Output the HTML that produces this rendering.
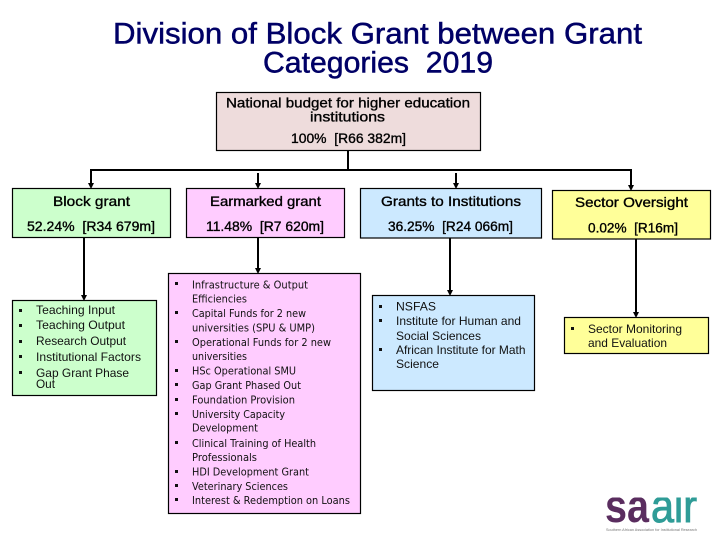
<!DOCTYPE html>
<html lang="en">
<head>
<meta charset="utf-8">
<title>Division of Block Grant between Grant Categories 2019</title>
<style>
html,body{margin:0;padding:0;background:#fff;width:720px;height:540px;overflow:hidden}
svg{display:block}
text{font-family:"Liberation Sans",Arial,sans-serif}
.t{font-size:30px;fill:#000066;stroke:#000066;stroke-width:.5px}
.h{font-size:14px;fill:#000;stroke:#000;stroke-width:.35px}
.l{font-size:12px;fill:#111}
.p{font-family:"DejaVu Sans",sans-serif;font-size:10.5px;fill:#111}
.b{stroke:#000;stroke-width:1.2}
.c{stroke:#000;stroke-width:2;fill:none}
</style>
</head>
<body>
<svg width="720" height="540" viewBox="0 0 720 540" xmlns="http://www.w3.org/2000/svg">
<defs><clipPath id="lg"><rect x="600" y="497.5" width="100" height="26"/></clipPath></defs>
<rect width="720" height="540" fill="#fff"/>

<text class="t" x="113" y="43.5" textLength="529" lengthAdjust="spacingAndGlyphs">Division of Block Grant between Grant</text>
<text class="t" x="263" y="72.5" textLength="230" lengthAdjust="spacingAndGlyphs">Categories&#160;&#160;2019</text>

<!-- connectors -->
<path class="c" d="M348 150V170M91 184V170H631V186M258 173V184M456 173V184M84 238V296M258 238V269M450 238V291M636 239V313"/>
<g fill="#000">
<polygon points="88,183 94,183 91,189"/>
<polygon points="255,183 261,183 258,189"/>
<polygon points="453,183 459,183 456,189"/>
<polygon points="628,185 634,185 631,191"/>
<polygon points="81,295 87,295 84,301"/>
<polygon points="255,268 261,268 258,274"/>
<polygon points="447,290 453,290 450,296"/>
<polygon points="633,312 639,312 636,318"/>
</g>

<!-- boxes -->
<rect class="b" x="216.5" y="92.5" width="264" height="58" fill="#eedcdc"/>
<rect class="b" x="12.5" y="188.5" width="158" height="49" fill="#ccffcc"/>
<rect class="b" x="186.5" y="188.5" width="158" height="49" fill="#ffccff"/>
<rect class="b" x="360.5" y="188.5" width="181" height="49.5" fill="#cce9ff"/>
<rect class="b" x="552.5" y="190.5" width="158" height="48.5" fill="#ffff99"/>
<rect class="b" x="12.5" y="300.5" width="144" height="95" fill="#ccffcc"/>
<rect class="b" x="168.5" y="273.5" width="192" height="240" fill="#ffccff"/>
<rect class="b" x="372.5" y="295.5" width="162" height="95" fill="#cce9ff"/>
<rect class="b" x="564.5" y="317.5" width="144" height="36" fill="#ffff99"/>

<!-- headers -->
<text class="h" x="226" y="107.5" textLength="244" lengthAdjust="spacingAndGlyphs">National budget for higher education</text>
<text class="h" x="310" y="121.5" textLength="75" lengthAdjust="spacingAndGlyphs">institutions</text>
<text class="h" x="291" y="143" textLength="115" lengthAdjust="spacingAndGlyphs">100%&#160;&#160;[R66 382m]</text>
<text class="h" x="53" y="206" textLength="77" lengthAdjust="spacingAndGlyphs">Block grant</text>
<text class="h" x="27" y="231" textLength="128" lengthAdjust="spacingAndGlyphs">52.24%&#160;&#160;[R34 679m]</text>
<text class="h" x="210" y="206" textLength="111" lengthAdjust="spacingAndGlyphs">Earmarked grant</text>
<text class="h" x="206" y="231" textLength="118" lengthAdjust="spacingAndGlyphs">11.48%&#160;&#160;[R7 620m]</text>
<text class="h" x="381" y="206" textLength="140" lengthAdjust="spacingAndGlyphs">Grants to Institutions</text>
<text class="h" x="388" y="231" textLength="125" lengthAdjust="spacingAndGlyphs">36.25%&#160;&#160;[R24 066m]</text>
<text class="h" x="575" y="207" textLength="113" lengthAdjust="spacingAndGlyphs">Sector Oversight</text>
<text class="h" x="588" y="232.5" textLength="90" lengthAdjust="spacingAndGlyphs">0.02%&#160;&#160;[R16m]</text>

<!-- bullets -->
<g fill="#111">
<rect x="19" y="309" width="3" height="3"/><rect x="19" y="324" width="3" height="3"/><rect x="19" y="340" width="3" height="3"/><rect x="19" y="355" width="3" height="3"/><rect x="19" y="371" width="3" height="3"/>
<rect x="175" y="282" width="3" height="3"/><rect x="175" y="311" width="3" height="3"/><rect x="175" y="340" width="3" height="3"/><rect x="175" y="369" width="3" height="3"/><rect x="175" y="383" width="3" height="3"/><rect x="175" y="398" width="3" height="3"/><rect x="175" y="412" width="3" height="3"/><rect x="175" y="441" width="3" height="3"/><rect x="175" y="470" width="3" height="3"/><rect x="175" y="484" width="3" height="3"/><rect x="175" y="498" width="3" height="3"/>
<rect x="379" y="305" width="3" height="3"/><rect x="379" y="319" width="3" height="3"/><rect x="379" y="348" width="3" height="3"/>
<rect x="571" y="327" width="3" height="3"/>
</g>

<!-- green list -->
<text class="l" x="36" y="314" textLength="79" lengthAdjust="spacingAndGlyphs">Teaching Input</text>
<text class="l" x="36" y="329" textLength="89" lengthAdjust="spacingAndGlyphs">Teaching Output</text>
<text class="l" x="36" y="345" textLength="90" lengthAdjust="spacingAndGlyphs">Research Output</text>
<text class="l" x="36" y="361" textLength="105" lengthAdjust="spacingAndGlyphs">Institutional Factors</text>
<text class="l" x="36" y="377" textLength="93" lengthAdjust="spacingAndGlyphs">Gap Grant Phase</text>
<text class="l" x="36" y="388" textLength="19" lengthAdjust="spacingAndGlyphs">Out</text>

<!-- pink list -->
<text class="p" x="192" y="288.3" textLength="116" lengthAdjust="spacingAndGlyphs">Infrastructure &amp; Output</text>
<text class="p" x="192" y="302.7" textLength="55" lengthAdjust="spacingAndGlyphs">Efficiencies</text>
<text class="p" x="192" y="317" textLength="114" lengthAdjust="spacingAndGlyphs">Capital Funds for 2 new</text>
<text class="p" x="192" y="331.7" textLength="123" lengthAdjust="spacingAndGlyphs">universities (SPU &amp; UMP)</text>
<text class="p" x="192" y="346" textLength="139" lengthAdjust="spacingAndGlyphs">Operational Funds for 2 new</text>
<text class="p" x="192" y="360" textLength="55" lengthAdjust="spacingAndGlyphs">universities</text>
<text class="p" x="192" y="374.7" textLength="104" lengthAdjust="spacingAndGlyphs">HSc Operational SMU</text>
<text class="p" x="192" y="389" textLength="109" lengthAdjust="spacingAndGlyphs">Gap Grant Phased Out</text>
<text class="p" x="192" y="403.7" textLength="103" lengthAdjust="spacingAndGlyphs">Foundation Provision</text>
<text class="p" x="192" y="418" textLength="93" lengthAdjust="spacingAndGlyphs">University Capacity</text>
<text class="p" x="192" y="431.7" textLength="66" lengthAdjust="spacingAndGlyphs">Development</text>
<text class="p" x="192" y="447" textLength="124" lengthAdjust="spacingAndGlyphs">Clinical Training of Health</text>
<text class="p" x="192" y="461" textLength="65" lengthAdjust="spacingAndGlyphs">Professionals</text>
<text class="p" x="192" y="475.7" textLength="117" lengthAdjust="spacingAndGlyphs">HDI Development Grant</text>
<text class="p" x="192" y="490" textLength="96" lengthAdjust="spacingAndGlyphs">Veterinary Sciences</text>
<text class="p" x="192" y="504" textLength="158" lengthAdjust="spacingAndGlyphs">Interest &amp; Redemption on Loans</text>

<!-- blue list -->
<text class="l" x="396" y="310.7" textLength="40" lengthAdjust="spacingAndGlyphs">NSFAS</text>
<text class="l" x="396" y="325" textLength="125" lengthAdjust="spacingAndGlyphs">Institute for Human and</text>
<text class="l" x="396" y="340" textLength="85" lengthAdjust="spacingAndGlyphs">Social Sciences</text>
<text class="l" x="396" y="354" textLength="129.5" lengthAdjust="spacingAndGlyphs">African Institute for Math</text>
<text class="l" x="396" y="368" textLength="43" lengthAdjust="spacingAndGlyphs">Science</text>

<!-- yellow list -->
<text class="l" x="588" y="333" textLength="94" lengthAdjust="spacingAndGlyphs">Sector Monitoring</text>
<text class="l" x="588" y="347" textLength="79" lengthAdjust="spacingAndGlyphs">and Evaluation</text>

<!-- logo -->
<g clip-path="url(#lg)">
<text x="605" y="522" font-size="46" font-weight="bold" textLength="44" lengthAdjust="spacingAndGlyphs" fill="#5a2d5f">sa</text>
<text x="651" y="522" font-size="46" textLength="46" lengthAdjust="spacingAndGlyphs" fill="#2f9c97" stroke="#2f9c97" stroke-width=".9">air</text>
</g>
<text x="606" y="531" font-size="4" textLength="91" lengthAdjust="spacingAndGlyphs" fill="#777">Southern African Association for Institutional Research</text>
</svg>
</body>
</html>
